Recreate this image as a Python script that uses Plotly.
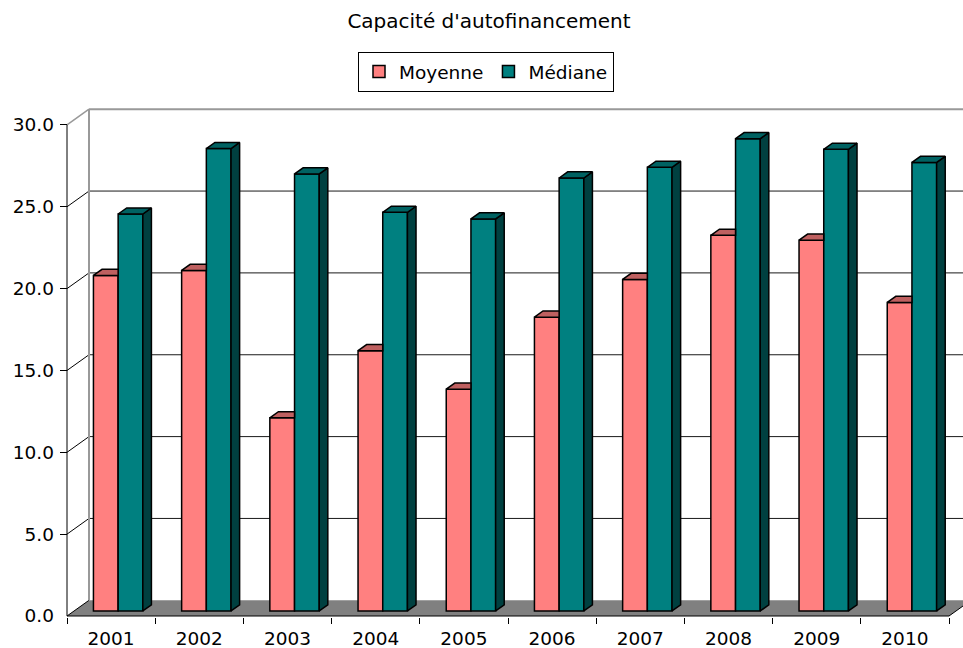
import plotly.graph_objects as go

# ---- data ----
years = ["2001", "2002", "2003", "2004", "2005", "2006", "2007", "2008", "2009", "2010"]
moyenne = [20.5, 20.8, 11.8, 15.9, 13.55, 17.95, 20.25, 22.95, 22.65, 18.85]
mediane = [24.25, 28.25, 26.7, 24.35, 23.95, 26.45, 27.1, 28.85, 28.2, 27.4]
y_ticks = [0, 5, 10, 15, 20, 25, 30]
title_text = "Capacité d'autofinancement"

# ---- geometry (pixels -> axis units) ----
W, H = 963, 648
ML, MR, MT, MB = 60, 0, 100, 31
PX_X = 88.2          # pixels per category
PX_Y = 16.37         # pixels per value unit
AXIS_PX = 7          # front axis offset from plot left edge
DX = 22 / PX_X       # full depth offset (x)
DY = 15.7 / PX_Y     # full depth offset (y)
T0, T1 = 0.32, 0.71  # bar front/back depth fractions
BW = 0.28            # bar width (category units)

n = len(years)
idx = list(range(n))
x_lo = -0.5 - AXIS_PX / PX_X
x_hi = x_lo + (W - ML - MR) / PX_X
y_lo = -1 / PX_Y
y_hi = y_lo + (H - MT - MB) / PX_Y
ymax = y_ticks[-1]

FONT = "DejaVu Sans"
PINK, PINK_TOP = "#FF8080", "#BF6060"
TEAL, TEAL_TOP, TEAL_SIDE = "#008080", "#006262", "#004040"


def p(x, y, t):
    return x + t * DX, y + t * DY


def polys(list_of_pts):
    xs, ys = [], []
    for pts in list_of_pts:
        for (x, y) in pts + [pts[0]]:
            xs.append(x)
            ys.append(y)
        xs.append(None)
        ys.append(None)
    return xs, ys


fig = go.Figure()

# front faces (bars)
fig.add_trace(go.Bar(
    x=idx, y=moyenne, base=T0 * DY, offset=-BW + T0 * DX, width=BW,
    name="Moyenne", marker=dict(color=PINK, line=dict(color="black", width=1.5)),
))
fig.add_trace(go.Bar(
    x=idx, y=mediane, base=T0 * DY, offset=T0 * DX, width=BW,
    name="Médiane", marker=dict(color=TEAL, line=dict(color="black", width=1.5)),
))

# pink top faces (visible part, left of the teal front face)
pink_tops = []
for i, v in enumerate(moyenne):
    L, R = i - BW, i
    pink_tops.append([p(L, v, T0), p(R, v, T0),
                      (R + T0 * DX, v + T1 * DY), p(L, v, T1)])
xs, ys = polys(pink_tops)
fig.add_trace(go.Scatter(x=xs, y=ys, mode="lines", fill="toself", fillcolor=PINK_TOP,
                         line=dict(color="black", width=1.5), showlegend=False,
                         hoverinfo="skip"))

# teal top and side faces
teal_tops, teal_sides = [], []
for i, v in enumerate(mediane):
    L, R = i, i + BW
    teal_tops.append([p(L, v, T0), p(R, v, T0), p(R, v, T1), p(L, v, T1)])
    teal_sides.append([p(R, 0, T0), p(R, v, T0), p(R, v, T1), p(R, 0, T1)])
xs, ys = polys(teal_sides)
fig.add_trace(go.Scatter(x=xs, y=ys, mode="lines", fill="toself", fillcolor=TEAL_SIDE,
                         line=dict(color="black", width=1.5), showlegend=False,
                         hoverinfo="skip"))
xs, ys = polys(teal_tops)
fig.add_trace(go.Scatter(x=xs, y=ys, mode="lines", fill="toself", fillcolor=TEAL_TOP,
                         line=dict(color="black", width=1.5), showlegend=False,
                         hoverinfo="skip"))

# ---- walls, floor, gridlines (shapes below traces) ----
shapes = []
fl, fr = -0.5, n - 0.5
shapes.append(dict(type="path", xref="x", yref="y", layer="below",
                   path=f"M{fl},0 L{fr},0 L{fr + DX},{DY} L{fl + DX},{DY} Z",
                   fillcolor="#808080", line=dict(width=0)))
for v in y_ticks:
    back_col = "#999999" if v == ymax else "#1a1a1a"
    if 0 < v:
        shapes.append(dict(type="line", xref="x", yref="y", layer="below",
                           x0=fl + DX, y0=v + DY, x1=x_hi, y1=v + DY,
                           line=dict(color=back_col, width=2 if v == ymax else 1)))
    shapes.append(dict(type="line", xref="x", yref="y", layer="below",
                       x0=fl, y0=v, x1=fl + DX, y1=v + DY,
                       line=dict(color="#999999" if v == ymax else "black",
                                 width=1.5 if v == ymax else 1)))
# back wall left edge
shapes.append(dict(type="line", xref="x", yref="y", layer="below",
                   x0=fl + DX, y0=DY, x1=fl + DX, y1=ymax + DY,
                   line=dict(color="#999999", width=2)))
# front axis line and floor edges
shapes.append(dict(type="line", xref="x", yref="y", layer="below",
                   x0=fl, y0=0, x1=fl, y1=ymax, line=dict(color="black", width=1)))
shapes.append(dict(type="line", xref="x", yref="y", layer="below",
                   x0=fl, y0=0, x1=fr, y1=0, line=dict(color="black", width=1)))
shapes.append(dict(type="line", xref="x", yref="y", layer="below",
                   x0=fr, y0=0, x1=fr + DX, y1=DY, line=dict(color="black", width=1)))

fig.update_layout(
    width=W, height=H,
    margin=dict(l=ML, r=MR, t=MT, b=MB, pad=0, autoexpand=False),
    paper_bgcolor="white", plot_bgcolor="white",
    barmode="overlay",
    shapes=shapes,
    font=dict(family=FONT, size=18, color="black"),
    title=dict(text=title_text, x=489 / W, xref="container", xanchor="center",
               y=1 - 21 / H, yref="container", yanchor="middle",
               font=dict(family=FONT, size=20, color="black")),
    legend=dict(orientation="h", x=(486 - ML) / (W - ML - MR), xanchor="center",
                y=(H - MB - 52) / (H - MT - MB), yanchor="top",
                bordercolor="black", borderwidth=1, bgcolor="white",
                font=dict(family=FONT, size=18.5, color="black"),
                itemclick=False, itemdoubleclick=False),
    xaxis=dict(range=[x_lo, x_hi], tickvals=idx, ticktext=years,
               ticks="outside", ticklen=5, tickcolor="rgba(0,0,0,0)",
               minor=dict(tickvals=[i - 0.5 for i in range(n + 1)], ticks="outside",
                          ticklen=6, tickcolor="black", tickwidth=1, showgrid=False),
               showgrid=False, zeroline=False, showline=False, fixedrange=True,
               automargin=False,
               tickfont=dict(family=FONT, size=18.5, color="black")),
    yaxis=dict(range=[y_lo, y_hi], tickvals=y_ticks, tickformat=".1f",
               ticks="inside", ticklen=7, tickcolor="black", tickwidth=1,
               ticklabelstandoff=5,
               showgrid=False, zeroline=False, showline=False, fixedrange=True,
               automargin=False,
               tickfont=dict(family=FONT, size=18.5, color="black")),
)

fig.write_html("out.html",
               config={"displayModeBar": False},
               post_script="document.body.style.margin='0px';"
                           "document.body.style.overflow='hidden';")
